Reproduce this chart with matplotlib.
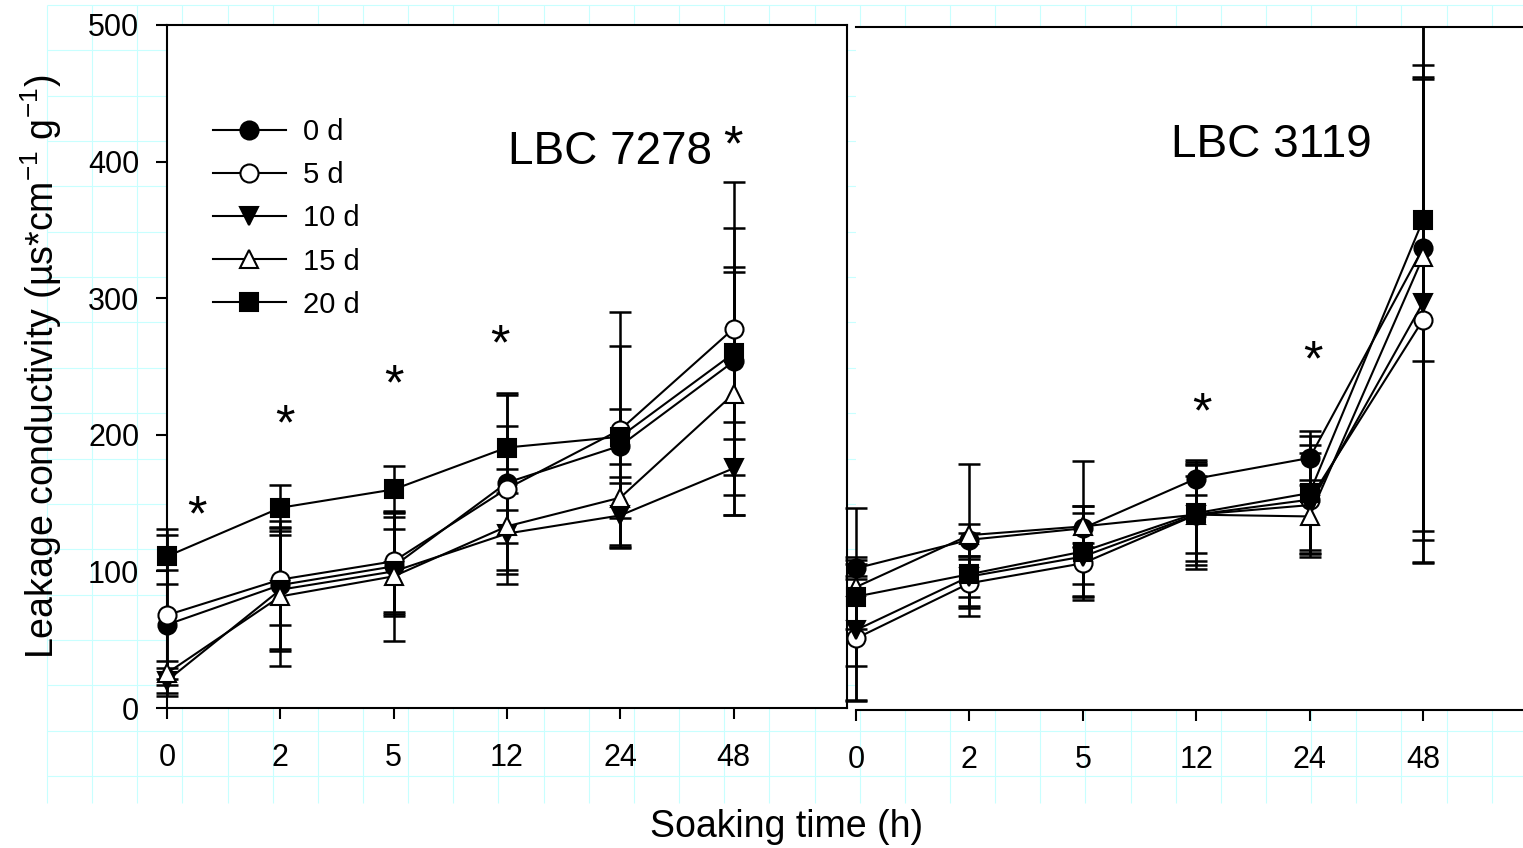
import numpy as np
import matplotlib
matplotlib.use("Agg")
import matplotlib.pyplot as plt
from matplotlib.transforms import Bbox, TransformedBbox

plt.rcParams['font.family'] = ['Liberation Sans', 'DejaVu Sans']
plt.rcParams['mathtext.fontset'] = 'custom'
plt.rcParams['mathtext.rm'] = 'Liberation Sans'
plt.rcParams['mathtext.it'] = 'Liberation Sans:italic'

hours = ['0', '2', '5', '12', '24', '48']
groups = ['0 d', '5 d', '10 d', '15 d', '20 d']

# LBC 7278 (left panel): means and SD
lbc7278_0d = [61, 90, 103.7, 165, 192, 253.7]
lbc7278_5d = [68, 94, 107.4, 160.6, 203.8, 277.8]
lbc7278_10d = [20, 86.6, 100, 127.7, 141, 175.5]
lbc7278_15d = [25.5, 81.7, 96.4, 133, 154, 230]
lbc7278_20d = [111, 146.6, 160, 190.7, 198.6, 259.7]
lbc7278_0d_sd = [40, 47, 36, 64, 73, 98]
lbc7278_5d_sd = [59, 33, 37, 70, 86, 107]
lbc7278_10d_sd = [9, 45, 31, 29.5, 24, 34]
lbc7278_15d_sd = [9, 51, 47, 12, 15, 89]
lbc7278_20d_sd = [20, 17, 17, 16, 20, 63]

# LBC 3119 (right panel)
lbc3119_0d = [103.7, 124.6, 133, 169.4, 184.5, 338]
lbc3119_5d = [52.4, 92.8, 107.4, 143, 154, 285.6]
lbc3119_10d = [58.5, 97.7, 112.3, 143, 150, 298.2]
lbc3119_15d = [90, 128, 134.4, 143, 141.7, 331.6]
lbc3119_20d = [83, 99.4, 116, 144.1, 158.8, 358.7]
lbc3119_0d_sd = [8, 11.6, 49.6, 12, 20, 207]
lbc3119_5d_sd = [46, 18, 15, 40, 40, 178]
lbc3119_10d_sd = [51, 15, 32, 28, 38, 174]
lbc3119_15d_sd = [58, 52, 15, 37, 27, 223]
lbc3119_20d_sd = [24, 30.5, 33, 35, 42, 103]

# significance marks (x index, y value)
stars_7278 = [(0.26, 150), (1.04, 217), (2.0, 246), (2.94, 275.5), (4.99, 421)]
stars_3119 = [(3.05, 227), (4.03, 265.5)]

markers = ['o', 'o', 'v', '^', 's']
faces = ['black', 'white', 'black', 'white', 'black']

W, H = 1523, 848
fig = plt.figure(figsize=(W / 100, H / 100), dpi=100)

# page grid in the background
bg = fig.add_axes([0, 0, 1, 1], zorder=-5)
bg.set_xlim(0, W)
bg.set_ylim(H, 0)
bg.axis('off')
gx = 47 + 45.15 * np.arange(33)
gy = 5 + 45.35 * np.arange(18)
bg.vlines(gx, 5, 803, color='#c8ffff', lw=0.8)
bg.hlines(gy, 47, W, color='#c8ffff', lw=0.8)

ax1 = fig.add_axes([167 / W, 1 - 708 / H, 680 / W, 683 / H])
ax2 = fig.add_axes([856 / W, 1 - 710 / H, (W - 856) / W, 683 / H])


def draw_panel(ax, means, sds):
    x = np.arange(len(hours))
    clip = TransformedBbox(Bbox([[-0.2, -0.2], [1.2, 1.0]]), ax.transAxes)
    handles = []
    for m, s, mk, fc, lab in zip(means, sds, markers, faces, groups):
        eb = ax.errorbar(x, m, yerr=s, fmt='none', ecolor='black',
                         elinewidth=1.8, capsize=8, capthick=1.8, zorder=2)
        for art in list(eb.lines[1]) + list(eb.lines[2]):
            art.set_clip_box(clip)
        ln, = ax.plot(x, m, color='black', lw=1.5, marker=mk, ms=13,
                      mfc=fc, mec='black', mew=1.5, label=lab, zorder=3,
                      clip_on=False)
        handles.append(ln)
    ax.set_xticks(x)
    ax.set_xticklabels(hours)
    ax.set_ylim(0, 500)
    ax.tick_params(axis='both', direction='out', length=8, width=1.5,
                   labelsize=22)
    ax.tick_params(axis='x', pad=17)
    ax.tick_params(axis='y', pad=12)
    for sp in ax.spines.values():
        sp.set_linewidth(1.5)
    return handles


h = draw_panel(ax1, [lbc7278_0d, lbc7278_5d, lbc7278_10d, lbc7278_15d, lbc7278_20d],
               [lbc7278_0d_sd, lbc7278_5d_sd, lbc7278_10d_sd, lbc7278_15d_sd, lbc7278_20d_sd])
ax1.set_xlim(0, 6)
ax1.set_yticks([0, 100, 200, 300, 400, 500])

draw_panel(ax2, [lbc3119_0d, lbc3119_5d, lbc3119_10d, lbc3119_15d, lbc3119_20d],
           [lbc3119_0d_sd, lbc3119_5d_sd, lbc3119_10d_sd, lbc3119_15d_sd, lbc3119_20d_sd])
ax2.set_xlim(0, (W - 856) / 113.4)
ax2.spines['left'].set_visible(False)
ax2.spines['right'].set_visible(False)
ax2.tick_params(axis='y', left=False, labelleft=False)

for sx, sy in stars_7278:
    ax1.annotate('*', xy=(sx, sy), xytext=(0, -20), textcoords='offset points',
                 ha='center', va='baseline', fontsize=36, annotation_clip=False)
for sx, sy in stars_3119:
    ax2.annotate('*', xy=(sx, sy), xytext=(0, -20), textcoords='offset points',
                 ha='center', va='baseline', fontsize=36, annotation_clip=False)

ax1.text(3.91, 398, 'LBC 7278', ha='center', va='baseline', fontsize=33)
ax2.text(3.66, 405, 'LBC 3119', ha='center', va='baseline', fontsize=33)

ax1.legend(handles=h, loc='upper left', bbox_to_anchor=(213 / W, 1 - 118 / H),
           bbox_transform=fig.transFigure, frameon=False, fontsize=21,
           handlelength=2.5, handletextpad=0.6, labelspacing=0.52,
           borderpad=0, borderaxespad=0)

fig.text(787 / W, 1 - 827 / H, 'Soaking time (h)', ha='center', va='center',
         fontsize=27)
fig.text(41 / W, 1 - 367 / H, r'Leakage conductivity (µs*cm$^{-1}$ g$^{-1}$)',
         ha='center', va='center', rotation=90, fontsize=27)

fig.savefig('out.png', dpi=100)
